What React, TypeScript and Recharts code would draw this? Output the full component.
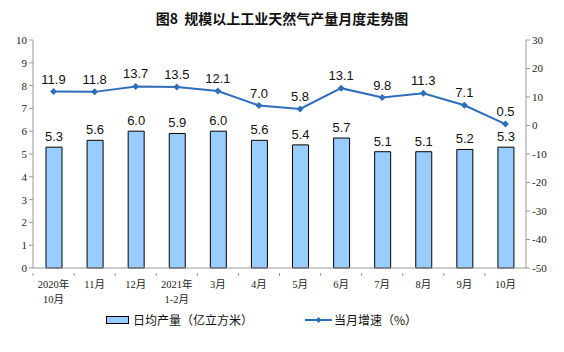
import React from "react";
import {
  ComposedChart,
  Bar,
  Line,
  XAxis,
  YAxis,
  LabelList,
} from "recharts";

const months = [
  "2020年\n10月",
  "11月",
  "12月",
  "2021年\n1-2月",
  "3月",
  "4月",
  "5月",
  "6月",
  "7月",
  "8月",
  "9月",
  "10月",
];
const dailyOutput = [5.3, 5.6, 6.0, 5.9, 6.0, 5.6, 5.4, 5.7, 5.1, 5.1, 5.2, 5.3];
const monthGrowth = [11.9, 11.8, 13.7, 13.5, 12.1, 7.0, 5.8, 13.1, 9.8, 11.3, 7.1, 0.5];
const leftTicks = [0, 1, 2, 3, 4, 5, 6, 7, 8, 9, 10];
const rightTicks = [-50, -40, -30, -20, -10, 0, 10, 20, 30];

const data = months.map((m, i) => ({
  name: m,
  output: dailyOutput[i],
  growth: monthGrowth[i],
}));

const serif = "'Liberation Serif', 'Noto Sans CJK SC', serif";
const cjk = "'Noto Sans CJK SC', sans-serif";
const sans = "'Liberation Sans', Arial, sans-serif";
const lineColor = "#2F6EBA";
const barColor = "#99CCFF";

const MonthTick = (props: any) => {
  const { x, y, payload } = props;
  const lines = String(payload.value).split("\n");
  const off = payload.offset || 0;
  return (
    <g>
      <line x1={x - off} x2={x - off} y1={y - 3} y2={y} stroke="#999" />
      <text
        x={x}
        y={y + 12}
        textAnchor="middle"
        fontSize={10.5}
        style={{ fontFamily: serif }}
        fill="#222"
      >
        {lines.map((l, i) => (
          <tspan key={i} x={x} dy={i === 0 ? 0 : 15}>
            {l}
          </tspan>
        ))}
      </text>
    </g>
  );
};

const Diamond = (props: any) => {
  const { cx, cy } = props;
  if (cx == null || cy == null) return null;
  const s = 3.5;
  return (
    <path
      d={`M${cx},${cy - s} L${cx + s},${cy} L${cx},${cy + s} L${cx - s},${cy} Z`}
      fill={lineColor}
    />
  );
};

const axisTick = { fontSize: 11, fill: "#222", style: { fontFamily: serif } };

export default function App() {
  return (
    <div
      style={{
        position: "absolute",
        left: 0,
        top: 0,
        width: 564,
        height: 352,
        background: "#fff",
      }}
    >
      <div
        style={{
          position: "absolute",
          top: 8,
          width: 564,
          textAlign: "center",
          fontFamily: cjk,
          fontWeight: "bold",
          fontSize: 14,
          color: "#111",
        }}
      >
        图8&nbsp;&nbsp;规模以上工业天然气产量月度走势图
      </div>
      <ComposedChart
        width={564}
        height={352}
        data={data}
        margin={{ top: 40, right: 0, bottom: 54, left: 0 }}
        barCategoryGap="30%"
      >
        <XAxis
          dataKey="name"
          interval={0}
          height={30}
          tick={<MonthTick />}
          tickLine={false}
          axisLine={{ stroke: "#999" }}
        />
        <YAxis
          yAxisId="left"
          domain={[0, 10]}
          ticks={leftTicks}
          width={33}
          tickSize={4}
          tick={axisTick}
          axisLine={{ stroke: "#999" }}
          tickLine={{ stroke: "#999" }}
        />
        <YAxis
          yAxisId="right"
          orientation="right"
          domain={[-50, 30]}
          ticks={rightTicks}
          width={38}
          tickSize={4}
          tick={axisTick}
          axisLine={{ stroke: "#999" }}
          tickLine={{ stroke: "#999" }}
        />
        <Bar
          yAxisId="left"
          dataKey="output"
          fill={barColor}
          stroke="#000"
          strokeWidth={1}
          barSize={16}
          isAnimationActive={false}
        >
          <LabelList
            dataKey="output"
            position="top"
            offset={6}
            formatter={(v: any) => Number(v).toFixed(1)}
            style={{ fontSize: 13, fontFamily: sans, fill: "#111" }}
          />
        </Bar>
        <Line
          yAxisId="right"
          dataKey="growth"
          stroke={lineColor}
          strokeWidth={2}
          dot={<Diamond />}
          activeDot={false}
          isAnimationActive={false}
        >
          <LabelList
            dataKey="growth"
            position="top"
            offset={8}
            formatter={(v: any) => Number(v).toFixed(1)}
            style={{ fontSize: 13, fontFamily: sans, fill: "#111" }}
          />
        </Line>
      </ComposedChart>
      <div
        style={{
          position: "absolute",
          top: 311,
          left: 106,
          display: "flex",
          alignItems: "center",
          fontFamily: cjk,
          fontSize: 12,
          color: "#111",
        }}
      >
        <div
          style={{
            width: 21,
            height: 6,
            background: barColor,
            border: "1.5px solid #000",
            marginRight: 4,
          }}
        />
        日均产量（亿立方米）
      </div>
      <div
        style={{
          position: "absolute",
          top: 311,
          left: 305,
          display: "flex",
          alignItems: "center",
          fontFamily: cjk,
          fontSize: 12,
          color: "#111",
        }}
      >
        <svg width={27} height={10} style={{ marginRight: 2 }}>
          <line x1={0} y1={5} x2={27} y2={5} stroke={lineColor} strokeWidth={2} />
          <path d="M13.5,2 L16.5,5 L13.5,8 L10.5,5 Z" fill={lineColor} />
        </svg>
        当月增速（%）
      </div>
    </div>
  );
}
